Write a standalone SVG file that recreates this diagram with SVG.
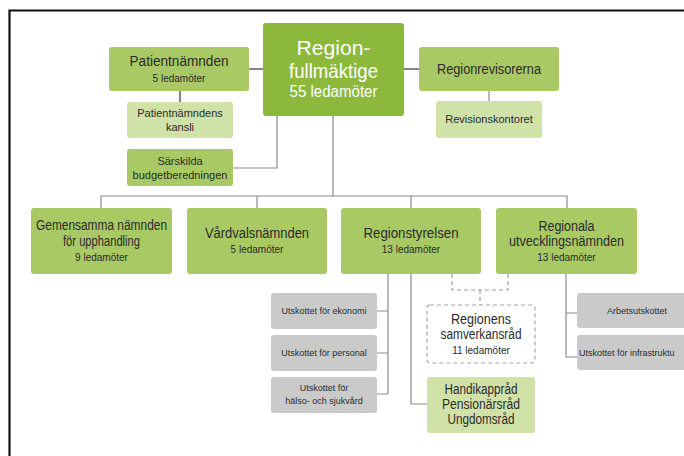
<svg xmlns="http://www.w3.org/2000/svg" width="684" height="456" viewBox="0 0 684 456">
<style>
text{font-family:"Liberation Sans",Arial,sans-serif;fill:#2b2b2b;text-anchor:middle}
.g1{fill:#8cb83c}
.g2{fill:#a9c965}
.g3{fill:#d1e2a9}
.gr{fill:#cacaca}
.big{font-size:14px}
.sm{font-size:10px}
.xs{font-size:9px}
.w{fill:#ffffff}
.c{fill:none;stroke:#8a8a8a;stroke-width:1.2}
.cd{fill:none;stroke:#333333;stroke-width:1.2}
.dash{fill:none;stroke:#a0a0a0;stroke-width:1.2;stroke-dasharray:4 3}
</style>
<rect x="0" y="0" width="684" height="456" fill="#ffffff"/>
<path d="M9.5,456 V10.5 H684" fill="none" stroke="#111" stroke-width="2.2"/>
<g id="connectors">
<path class="cd" d="M249,69 H263"/>
<path class="cd" d="M404,69 H419"/>
<path class="cd" d="M180,91 V102"/>
<path class="c" d="M489,91 V101"/>
<path class="c" d="M233,168 H277 V116"/>
<path class="c" d="M333,116 V196"/>
<path class="c" d="M101,208 V196 H567 V208"/>
<path class="c" d="M257,196 V208"/>
<path class="c" d="M411,196 V208"/>
<path class="c" d="M388,274 V394"/>
<path class="c" d="M377,311 H388 M377,353 H388 M377,394 H388"/>
<path class="c" d="M411,274 V404 H427"/>
<path class="c" d="M566,274 V357 H577 M566,313 H577"/>
<path class="dash" d="M452,274 V290 H508 V274 M480,290 V305"/>
</g>
<g id="regionfullmaktige">
<rect class="g1" x="263" y="23" width="141" height="93" rx="3"/>
<text class="w" x="333.5" y="55" font-size="20" textLength="74" lengthAdjust="spacingAndGlyphs">Region-</text>
<text class="w" x="333.5" y="78" font-size="20" textLength="89" lengthAdjust="spacingAndGlyphs">fullmäktige</text>
<text class="w" x="333.5" y="97" font-size="16" textLength="88" lengthAdjust="spacingAndGlyphs">55 ledamöter</text>
</g>
<g id="patientnamnden">
<rect class="g2" x="109" y="47" width="140" height="44" rx="3"/>
<text class="big" x="179" y="66" textLength="99" lengthAdjust="spacingAndGlyphs">Patientnämnden</text>
<text class="sm" x="179" y="82">5 ledamöter</text>
</g>
<g id="patientnamndens-kansli">
<rect class="g3" x="127" y="102" width="106" height="36" rx="3"/>
<text font-size="11" x="180" y="117">Patientnämndens</text>
<text font-size="11" x="180" y="131">kansli</text>
</g>
<g id="sarskilda">
<rect class="g2" x="127" y="149" width="106" height="37" rx="3"/>
<text font-size="11" x="180" y="165">Särskilda</text>
<text font-size="11" x="180" y="179">budgetberedningen</text>
</g>
<g id="regionrevisorerna">
<rect class="g2" x="419" y="47" width="140" height="44" rx="3"/>
<text class="big" x="489" y="74" textLength="104" lengthAdjust="spacingAndGlyphs">Regionrevisorerna</text>
</g>
<g id="revisionskontoret">
<rect class="g3" x="436" y="101" width="106" height="37" rx="3"/>
<text font-size="11" x="489" y="123">Revisionskontoret</text>
</g>
<g id="gemensamma">
<rect class="g2" x="31" y="208" width="141" height="66" rx="3"/>
<text class="big" x="101.5" y="230" textLength="131" lengthAdjust="spacingAndGlyphs">Gemensamma nämnden</text>
<text class="big" x="101.5" y="246" textLength="77" lengthAdjust="spacingAndGlyphs">för upphandling</text>
<text class="sm" x="101.5" y="261">9 ledamöter</text>
</g>
<g id="vardvalsnamnden">
<rect class="g2" x="187" y="208" width="140" height="66" rx="3"/>
<text class="big" x="257" y="238" textLength="104" lengthAdjust="spacingAndGlyphs">Vårdvalsnämnden</text>
<text class="sm" x="257" y="253">5 ledamöter</text>
</g>
<g id="regionstyrelsen">
<rect class="g2" x="341" y="208" width="140" height="66" rx="3"/>
<text class="big" x="411" y="238" textLength="95" lengthAdjust="spacingAndGlyphs">Regionstyrelsen</text>
<text class="sm" x="411" y="253">13 ledamöter</text>
</g>
<g id="regionala">
<rect class="g2" x="496" y="208" width="141" height="66" rx="3"/>
<text class="big" x="566.5" y="231" textLength="56" lengthAdjust="spacingAndGlyphs">Regionala</text>
<text class="big" x="566.5" y="246" textLength="115" lengthAdjust="spacingAndGlyphs">utvecklingsnämnden</text>
<text class="sm" x="566.5" y="261">13 ledamöter</text>
</g>
<g id="utskott-ekonomi">
<rect class="gr" x="271" y="293" width="106" height="36" rx="3"/>
<text class="xs" x="324" y="314">Utskottet för ekonomi</text>
</g>
<g id="utskott-personal">
<rect class="gr" x="271" y="335" width="106" height="36" rx="3"/>
<text class="xs" x="324" y="356">Utskottet för personal</text>
</g>
<g id="utskott-halso">
<rect class="gr" x="271" y="377" width="106" height="36" rx="3"/>
<text class="xs" x="324" y="391">Utskottet för</text>
<text class="xs" x="324" y="404">hälso- och sjukvård</text>
</g>
<g id="samverkansrad">
<rect x="427" y="305" width="108" height="58" rx="3" fill="#ffffff" stroke="#a8a8a8" stroke-width="1.2" stroke-dasharray="4 3"/>
<text class="big" x="481" y="324" textLength="60" lengthAdjust="spacingAndGlyphs">Regionens</text>
<text class="big" x="481" y="339" textLength="81" lengthAdjust="spacingAndGlyphs">samverkansråd</text>
<text class="sm" x="481" y="354">11 ledamöter</text>
</g>
<g id="rad">
<rect class="g3" x="427" y="377" width="108" height="56" rx="3"/>
<text class="big" x="481" y="394" textLength="73" lengthAdjust="spacingAndGlyphs">Handikappråd</text>
<text class="big" x="481" y="409" textLength="78" lengthAdjust="spacingAndGlyphs">Pensionärsråd</text>
<text class="big" x="481" y="424" textLength="67" lengthAdjust="spacingAndGlyphs">Ungdomsråd</text>
</g>
<g id="arbetsutskottet">
<rect class="gr" x="577" y="293" width="110" height="35" rx="3"/>
<text class="xs" x="637" y="314">Arbetsutskottet</text>
</g>
<g id="utskott-infrastruktur">
<rect class="gr" x="577" y="335" width="110" height="35" rx="3"/>
<text class="xs" x="579" y="356" style="text-anchor:start">Utskottet för infrastruktu</text>
</g>
</svg>
